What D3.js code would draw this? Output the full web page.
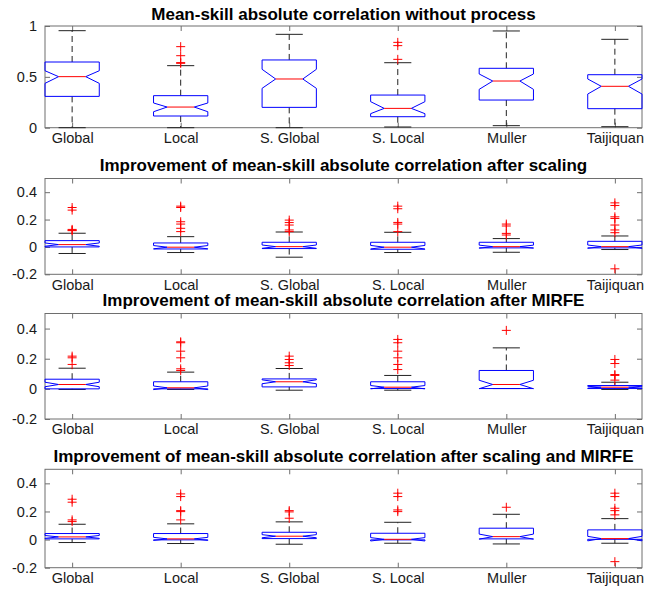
<!DOCTYPE html>
<html><head><meta charset="utf-8">
<script src="https://cdn.jsdelivr.net/npm/d3@7"></script>
<style>body{margin:0;background:#fff}svg{display:block}</style>
</head><body>
<script>
const categories = ["Global","Local","S. Global","S. Local","Muller","Taijiquan"];
const titles = [
  "Mean-skill absolute correlation without process",
  "Improvement of mean-skill absolute correlation after scaling",
  "Improvement of mean-skill absolute correlation after MIRFE",
  "Improvement of mean-skill absolute correlation after scaling and MIRFE"
];
const yDomains = [[0,1],[-0.2,0.5],[-0.2,0.5],[-0.2,0.5]];
const yTicks = [[0,0.5,1],[-0.2,0,0.2,0.4],[-0.2,0,0.2,0.4],[-0.2,0,0.2,0.4]];
const yTickLabels = [["0","0.5","1"],["-0.2","0","0.2","0.4"],["-0.2","0","0.2","0.4"],["-0.2","0","0.2","0.4"]];

// per panel, per category
const medians = [
  [0.502,0.203,0.479,0.190,0.459,0.407],
  [0.017,-0.002,0.002,-0.002,0.002,0.002],
  [0.029,0.007,0.047,0.011,0.029,0.011],
  [0.019,0.005,0.024,0.002,0.021,0.007]
];
const q1s = [
  [0.308,0.115,0.200,0.108,0.272,0.187],
  [0.000,-0.015,-0.012,-0.017,-0.007,-0.007],
  [0.000,0.000,0.013,0.002,0.002,0.002],
  [0.005,-0.002,0.007,-0.002,0.005,0.002]
];
const q3s = [
  [0.646,0.315,0.666,0.321,0.584,0.521],
  [0.046,0.029,0.034,0.034,0.034,0.041],
  [0.064,0.047,0.066,0.047,0.122,0.022],
  [0.043,0.043,0.052,0.045,0.081,0.069]
];
const notchLows = [
  [0.436,0.157,0.387,0.138,0.377,0.331],
  [0.005,-0.014,-0.010,-0.015,-0.009,-0.010],
  [0.014,-0.005,0.034,0.000,0.001,0.005],
  [0.009,-0.006,0.013,-0.010,0.003,-0.009]
];
const notchHighs = [
  [0.560,0.243,0.574,0.256,0.528,0.479],
  [0.029,0.010,0.014,0.011,0.013,0.014],
  [0.044,0.019,0.060,0.022,0.057,0.017],
  [0.029,0.016,0.035,0.014,0.039,0.023]
];
const lowerWhiskers = [
  [0.000,0.000,0.000,0.007,0.020,0.010],
  [-0.048,-0.041,-0.075,-0.041,-0.039,-0.019],
  [-0.004,-0.004,-0.009,-0.009,0.002,-0.004],
  [-0.021,-0.028,-0.033,-0.026,-0.031,-0.026]
];
const upperWhiskers = [
  [0.954,0.610,0.918,0.639,0.951,0.869],
  [0.100,0.075,0.109,0.107,0.061,0.080],
  [0.137,0.111,0.135,0.089,0.272,0.044],
  [0.109,0.112,0.126,0.123,0.180,0.149]
];
const outliers = [
  [[],[0.797,0.708,0.640,0.633],[],[0.839,0.807,0.672],[],[]],
  [[0.288,0.269,0.128,0.122,0.119],[0.298,0.288,0.184,0.167,0.136,0.112],[0.196,0.178,0.160,0.124,0.112],[0.298,0.279,0.179,0.167,0.112],[0.167,0.153,0.099,0.087],[0.322,0.303,0.220,0.208,0.160,0.124,0.104,-0.160]],
  [[0.217,0.206,0.162],[0.312,0.306,0.250,0.206,0.133,0.122],[0.217,0.195,0.173,0.155],[0.328,0.306,0.250,0.206,0.162,0.128],[0.388],[0.195,0.168,0.095,0.089,0.058]],
  [[0.287,0.266,0.140,0.128],[0.325,0.306,0.206,0.199,0.140],[0.206,0.197,0.152],[0.330,0.306,0.211,0.199],[0.230],[0.330,0.306,0.223,0.206,0.176,-0.157]]
];

const W = 667, H = 592;
const panels = [
  {top:26, bottom:127.7, titleY:19.5},
  {top:178.5, bottom:274.3, titleY:170.5},
  {top:313.5, bottom:419, titleY:305.5},
  {top:469.3, bottom:567.7, titleY:461.5}
];
const left = 45, right = 642;
const svg = d3.select("body").append("svg").attr("width",W).attr("height",H)
  .style("font-family","'Liberation Sans', Arial, sans-serif");

const x = d3.scaleLinear().domain([0.75,6.25]).range([left,right]);
const axisCol = "#6e6e6e";

panels.forEach((p,pi)=>{
  const y = d3.scaleLinear().domain(yDomains[pi]).range([p.bottom,p.top]);
  const g = svg.append("g");
  // title
  g.append("text").attr("x",(left+right)/2).attr("y",p.titleY)
    .attr("text-anchor","middle").attr("font-weight","bold").attr("font-size",17)
    .attr("fill","#000").text(titles[pi]);

  // axes via d3 axis, ticks inward
  const ticksLen = 5;
  const xb = g.append("g").attr("transform",`translate(0,${p.bottom})`)
    .call(d3.axisBottom(x).tickValues(d3.range(1,7)).tickFormat((d,i)=>categories[i]).tickSizeInner(-ticksLen).tickSizeOuter(0).tickPadding(8));
  const xt = g.append("g").attr("transform",`translate(0,${p.top})`)
    .call(d3.axisTop(x).tickValues(d3.range(1,7)).tickFormat("").tickSizeInner(-ticksLen).tickSizeOuter(0));
  const yl = g.append("g").attr("transform",`translate(${left},0)`)
    .call(d3.axisLeft(y).tickValues(yTicks[pi]).tickFormat((d,i)=>yTickLabels[pi][i]).tickSizeInner(-ticksLen).tickSizeOuter(0).tickPadding(8));
  const yr = g.append("g").attr("transform",`translate(${right},0)`)
    .call(d3.axisRight(y).tickValues(yTicks[pi]).tickFormat("").tickSizeInner(-ticksLen).tickSizeOuter(0));
  [xb,xt,yl,yr].forEach(a=>{
    a.select(".domain").remove();
    a.selectAll("line").attr("stroke",axisCol);
    a.selectAll("text").attr("font-size",14.5).attr("fill","#1a1a1a").attr("font-family","'Liberation Sans', Arial, sans-serif");
  });
  xb.selectAll("text").attr("dy","0.71em").attr("y",5);
  g.append("rect").attr("x",left).attr("y",p.top).attr("width",right-left).attr("height",p.bottom-p.top)
    .attr("fill","none").attr("stroke",axisCol).attr("stroke-width",1);

  const hw = (x(1.25)-x(1));   // box half width
  const cw = hw/2;             // cap half width
  categories.forEach((c,i)=>{
    const cx = x(i+1);
    const bg = g.append("g");
    // whiskers
    bg.append("line").attr("x1",cx).attr("x2",cx).attr("y1",y(q3s[pi][i])).attr("y2",y(upperWhiskers[pi][i]))
      .attr("stroke","#222").attr("stroke-dasharray","6,4");
    bg.append("line").attr("x1",cx).attr("x2",cx).attr("y1",y(q1s[pi][i])).attr("y2",y(lowerWhiskers[pi][i]))
      .attr("stroke","#222").attr("stroke-dasharray","6,4");
    bg.append("line").attr("x1",cx-cw).attr("x2",cx+cw).attr("y1",y(upperWhiskers[pi][i])).attr("y2",y(upperWhiskers[pi][i])).attr("stroke","#222");
    bg.append("line").attr("x1",cx-cw).attr("x2",cx+cw).attr("y1",y(lowerWhiskers[pi][i])).attr("y2",y(lowerWhiskers[pi][i])).attr("stroke","#222");
    // notched box
    const q1=y(q1s[pi][i]), q3=y(q3s[pi][i]), md=y(medians[pi][i]), nl=y(notchLows[pi][i]), nh=y(notchHighs[pi][i]);
    const pts = [[cx-hw,q1],[cx-hw,nl],[cx-hw/2,md],[cx-hw,nh],[cx-hw,q3],[cx+hw,q3],[cx+hw,nh],[cx+hw/2,md],[cx+hw,nl],[cx+hw,q1]];
    bg.append("path").attr("d",d3.line()(pts)+"Z").attr("fill","none").attr("stroke","#0000ff");
    bg.append("line").attr("x1",cx-hw/2).attr("x2",cx+hw/2).attr("y1",md).attr("y2",md).attr("stroke","#ff0000");
    // outliers
    outliers[pi][i].forEach(v=>{
      const oy = y(v);
      bg.append("path").attr("d",`M${cx-4.5},${oy}H${cx+4.5}M${cx},${oy-4.5}V${oy+4.5}`).attr("stroke","#ff0000");
    });
  });
});
</script>
</body></html>
